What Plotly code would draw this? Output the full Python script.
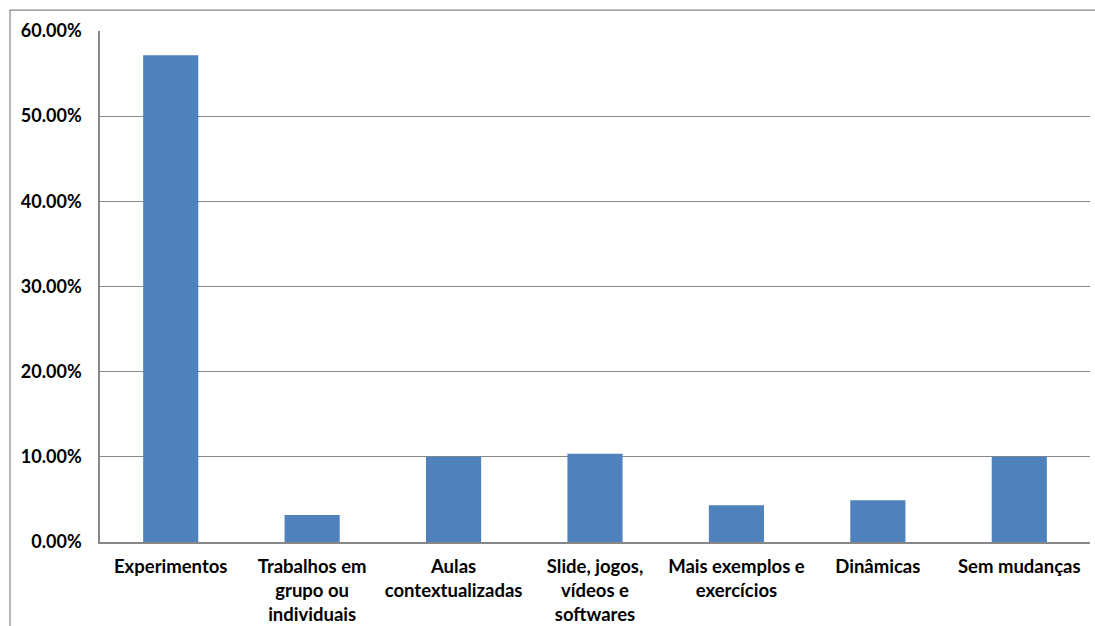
import plotly.graph_objects as go

categories = [
    "Experimentos",
    "Trabalhos em<br>grupo ou<br>individuais",
    "Aulas<br>contextualizadas",
    "Slide, jogos,<br>vídeos e<br>softwares",
    "Mais exemplos e<br>exercícios",
    "Dinâmicas",
    "Sem mudanças",
]
values = [0.5714, 0.0317, 0.10, 0.1035, 0.0431, 0.049, 0.10]
tick_vals = [0, 0.1, 0.2, 0.3, 0.4, 0.5, 0.6]
tick_text = ["0.00%", "10.00%", "20.00%", "30.00%", "40.00%", "50.00%", "60.00%"]

FONT = "Lato"
fig = go.Figure(
    go.Bar(x=categories, y=values, marker=dict(color="#4F81BD", line=dict(width=0)))
)
fig.update_layout(
    width=1095, height=626,
    margin=dict(l=100, r=5, t=31, b=84),
    plot_bgcolor="white", paper_bgcolor="white",
    bargap=0.61, showlegend=False,
    font=dict(family=FONT, size=14, color="black"),
    shapes=[dict(type="rect", xref="paper", yref="paper",
                 x0=-0.0909, x1=1.2, y0=-0.3, y1=1.041,
                 line=dict(color="#878787", width=1.2), layer="below")],
)
fig.update_xaxes(
    showline=True, linecolor="#878787", linewidth=1.5, ticks="",
    tickfont=dict(family=FONT, size=18.5, color="black", weight="bold"),
    ticklabelstandoff=7, showgrid=False, automargin=False,
)
fig.update_yaxes(
    range=[0, 0.6], tickvals=tick_vals, ticktext=tick_text,
    showline=True, linecolor="#878787", linewidth=1.5, ticks="",
    showgrid=True, gridcolor="#878787", gridwidth=1.2,
    tickfont=dict(family=FONT, size=18, color="black", weight="bold"),
    ticklabelstandoff=13, zeroline=False, automargin=False,
)
fig.write_html("out.html")
